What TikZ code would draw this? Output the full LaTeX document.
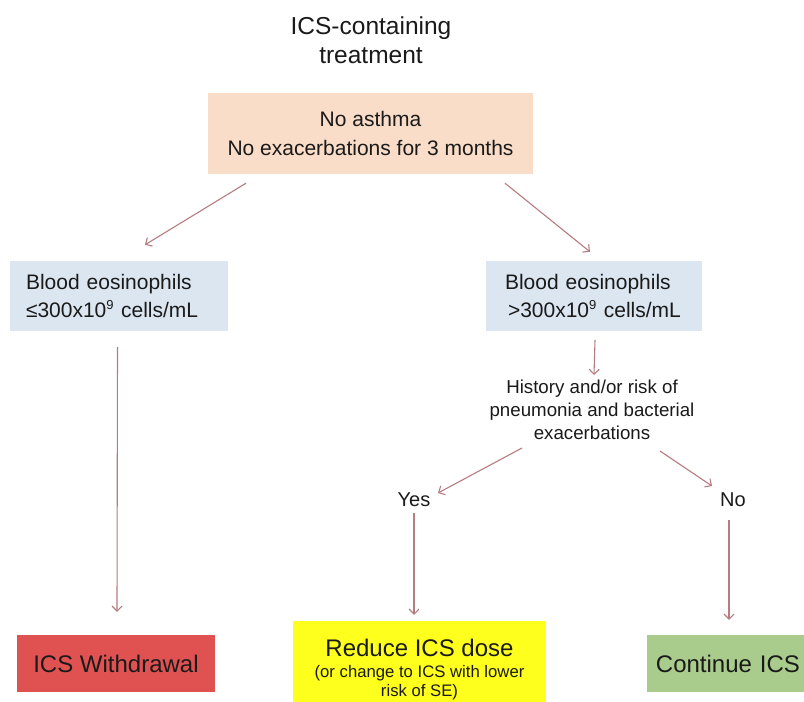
\documentclass[tikz,border=0pt]{standalone}
\usepackage{fontspec}
\setmainfont{Liberation Sans}
\usetikzlibrary{calc,arrows.meta}
\definecolor{peach}{HTML}{F9DDC8}
\definecolor{lblue}{HTML}{DCE6F1}
\definecolor{cred}{HTML}{E05252}
\definecolor{cyel}{HTML}{FFFF1E}
\definecolor{cgreen}{HTML}{A9CB8C}
\definecolor{arrcol}{HTML}{B77C80}
\definecolor{txt}{HTML}{1A1A1A}
\newcommand{\supnine}{\textsuperscript{\fontsize{13}{13}\selectfont 9}}
\tikzset{
  box/.style={draw=none, rectangle, inner sep=0pt, text=txt},
  arr/.style={draw=arrcol, line width=1.1pt, -{Straight Barb[length=5pt,width=10pt]}},
  lbl/.style={text=txt, align=center, inner sep=0pt},
}
\begin{document}
\begin{tikzpicture}[x=1pt,y=-1pt]
\useasboundingbox (0,0) rectangle (804,702);
\fill[white] (0,0) rectangle (804,702);

\node[lbl, font=\fontsize{24.5}{29.5}\selectfont] (title) at (371,40) {ICS-containing\\treatment};

\node[box, fill=peach, minimum width=325pt, minimum height=81pt, align=center,
      font=\fontsize{21}{29}\selectfont] (top) at (370.5,133.5) {No asthma\\No exacerbations for 3 months};

\node[box, fill=lblue, minimum width=218pt, minimum height=70pt, text width=218pt, align=left,
      font=\fontsize{21}{27.5}\selectfont] (lb) at (119,296)
      {\hspace*{16pt}Blood eosinophils\\\hspace*{16pt}≤300x10\supnine{} cells/mL};

\node[box, fill=lblue, minimum width=216pt, minimum height=70pt, text width=216pt, align=left,
      font=\fontsize{21}{27.5}\selectfont] (rb) at (594,296)
      {\hspace*{19pt}Blood eosinophils\\\hspace*{22pt}>300x10\supnine{} cells/mL};

\node[lbl, font=\fontsize{18.7}{23}\selectfont] (hist) at (592,410)
      {History and/or risk of\\pneumonia and bacterial\\exacerbations};

\node[lbl, font=\fontsize{20}{24}\selectfont] (yes) at (414,500) {Yes};
\node[lbl, font=\fontsize{20}{24}\selectfont] (no) at (733,500) {No};

\node[box, fill=cred, minimum width=198pt, minimum height=57pt, align=center,
      font=\fontsize{24}{28}\selectfont] (red) at (116,663.5) {ICS Withdrawal};

\node[box, fill=cyel, minimum width=253pt, minimum height=81pt] (yel) at (419.5,661.5) {};
\node[lbl, font=\fontsize{24}{28}\selectfont] (yel1) at (419.5,648) {Reduce ICS dose};
\node[lbl, font=\fontsize{16.7}{19}\selectfont] (yel2) at (419.5,683) {(or change to ICS with lower\\risk of SE)};

\node[box, fill=cgreen, minimum width=157pt, minimum height=57pt, text width=149pt, align=right,
      font=\fontsize{24}{28}\selectfont] (grn) at (725.5,663.5) {Continue ICS};

\draw[arr] ($(top.south)+(-124.5,9)$) -- ($(lb.north)+(26,-16)$);
\draw[arr] ($(top.south)+(134.5,9)$) -- ($(rb.north)+(-4,-9)$);
\draw[arr] ($(lb.south)+(-1.5,16)$) -- ($(red.north)+(1,-23)$);
\draw[arr] ($(rb.south)+(1,9)$) -- ($(hist.center)+(2,-35)$);
\draw[arr] ($(hist.center)+(-70,38)$) -- ($(yes.center)+(24,-7)$);
\draw[arr] ($(hist.center)+(68,41)$) -- ($(no.center)+(-21,-14)$);
\draw[arr] ($(yes.center)+(0,13)$) -- ($(yel.north)+(-5.5,-6)$);
\draw[arr] ($(no.center)+(-4,20)$) -- ($(grn.north)+(3.5,-15)$);
\end{tikzpicture}
\end{document}
